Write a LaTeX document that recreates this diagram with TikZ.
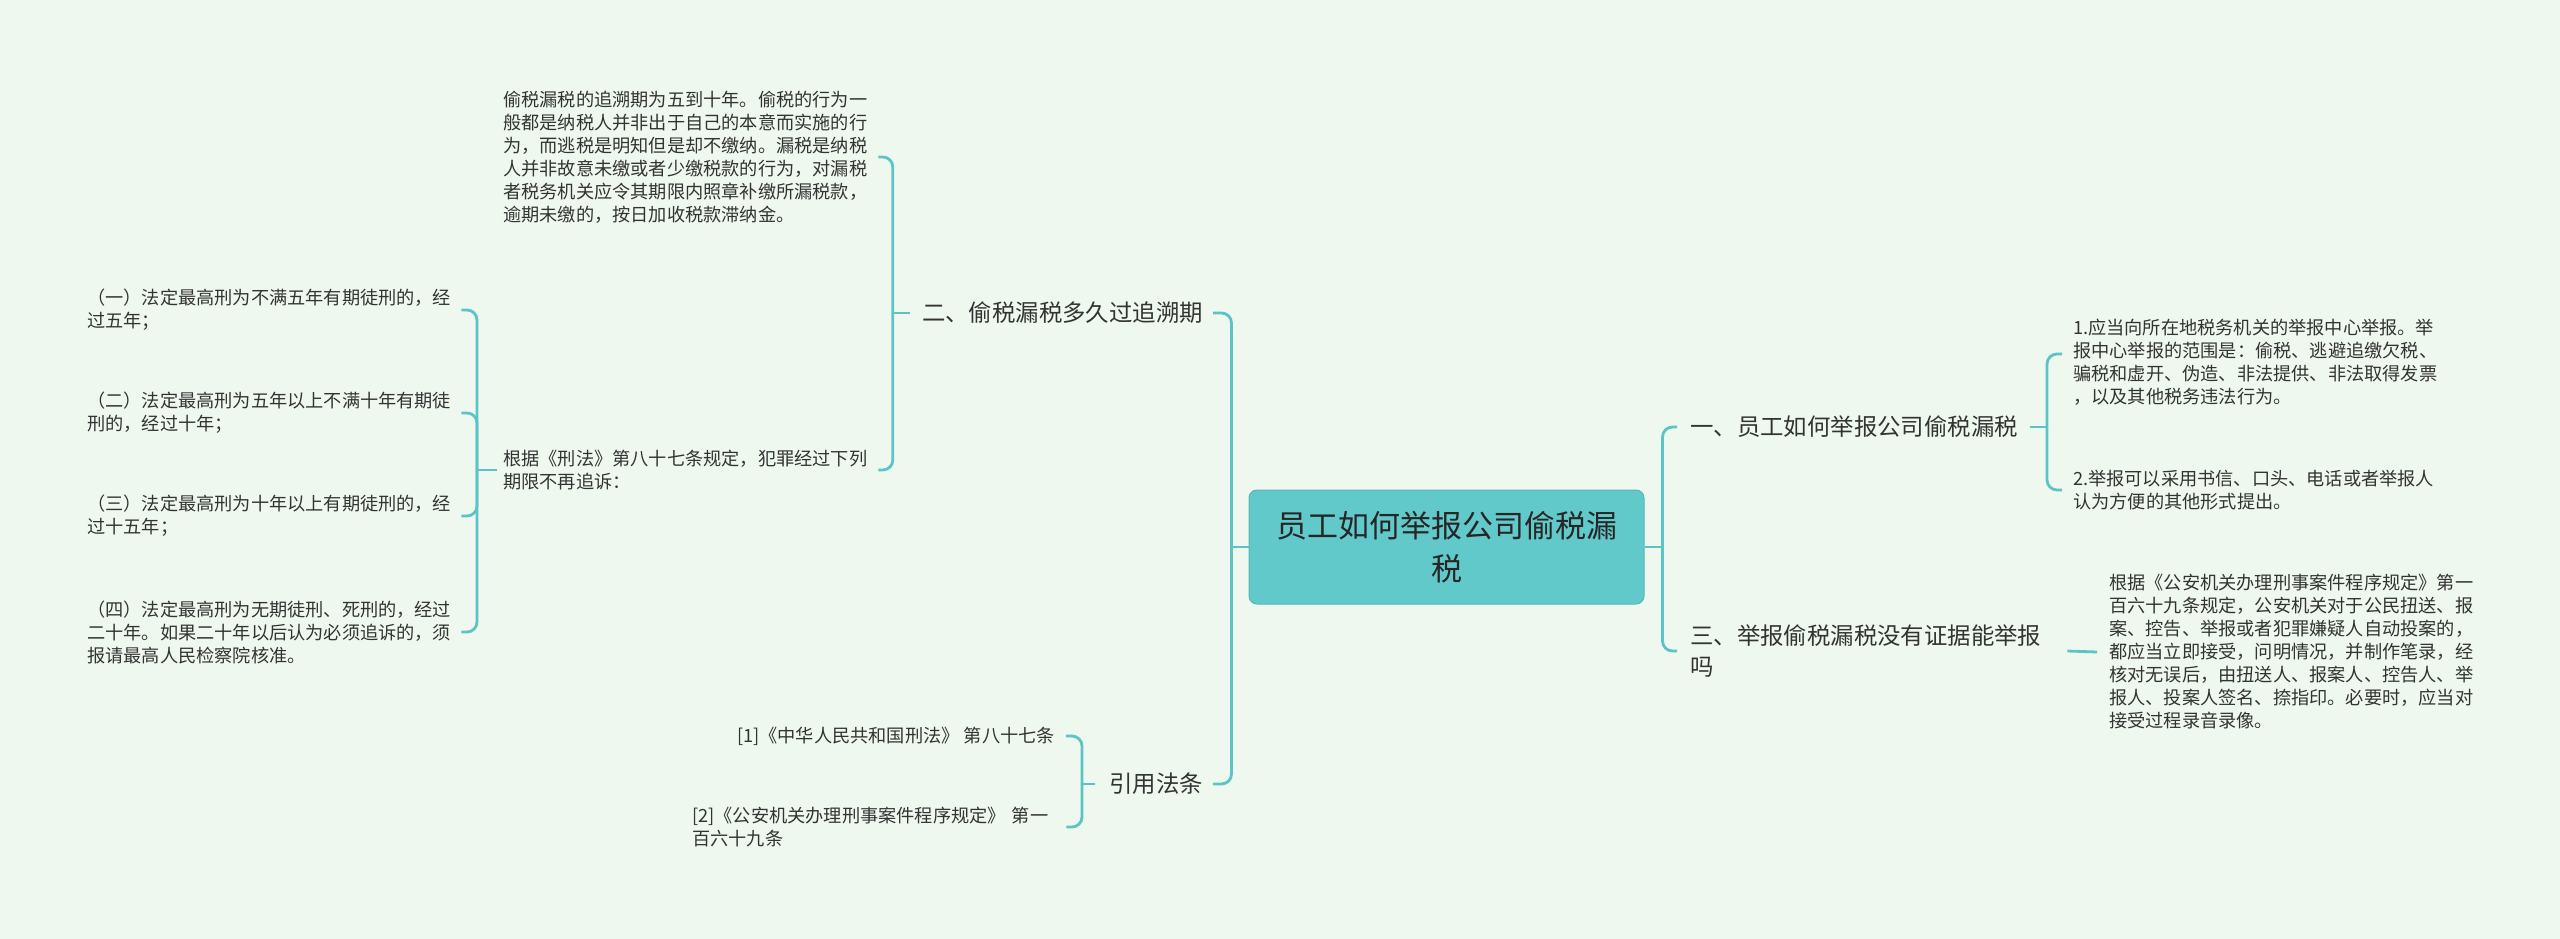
\documentclass[tikz,border=0pt]{standalone}
\usepackage{fontspec}
\setmainfont{Noto Sans CJK SC}
\usepackage{tikz}
\definecolor{bgcol}{HTML}{EFF8EF}
\definecolor{linecol}{HTML}{5CC4C6}
\definecolor{rootcol}{HTML}{62C9CB}
\definecolor{txtcol}{HTML}{333333}
\tikzset{
link/.style={draw=linecol, line width=2.8pt},
elbow/.style={link, rounded corners=10pt},
rootbox/.style={fill=rootcol, draw=rootcol!90!black, line width=1pt, rounded corners=8pt,
  minimum width=395pt, minimum height=114pt, align=center, text=black!85,
  font=\fontsize{31}{43}\selectfont},
topic/.style={inner sep=0pt, text=txtcol, align=left, font=\fontsize{23.4}{31}\selectfont},
leafline/.style={inner sep=0pt, text=txtcol, align=left, font=\fontsize{18.2}{23}\selectfont},
leaf/.style={leafline, text width=364pt}
}

\begin{document}
\begin{tikzpicture}[x=1pt,y=-1pt]
\fill[bgcol] (0,0) rectangle (2560,939);
\useasboundingbox (0,0) rectangle (2560,939);

\node[rootbox] (root) at (1446.5,547) {员工如何举报公司偷税漏\\税};

\node[topic,anchor=east] (b2) at (1203,313) {二、偷税漏税多久过追溯期};
\node[topic,anchor=east] (b4) at (1203,784) {引用法条};
\node[topic,anchor=west] (b1) at (1690,427) {一、员工如何举报公司偷税漏税};
\node[topic,anchor=west,text width=360pt] (b3) at (1690,651) {三、举报偷税漏税没有证据能举报\\吗};

\node[leaf,anchor=west] (t1) at (503,157) {偷税漏税的追溯期为五到十年。偷税的行为一\\般都是纳税人并非出于自己的本意而实施的行\\为，而逃税是明知但是却不缴纳。漏税是纳税\\人并非故意未缴或者少缴税款的行为，对漏税\\者税务机关应令其期限内照章补缴所漏税款，\\逾期未缴的，按日加收税款滞纳金。};
\node[leaf,anchor=west] (t2) at (503,470) {根据《刑法》第八十七条规定，犯罪经过下列\\期限不再追诉：};

\node[leaf,anchor=west] (q1) at (87,310) {（一）法定最高刑为不满五年有期徒刑的，经\\过五年；};
\node[leaf,anchor=west] (q2) at (87,413) {（二）法定最高刑为五年以上不满十年有期徒\\刑的，经过十年；};
\node[leaf,anchor=west] (q3) at (87,516) {（三）法定最高刑为十年以上有期徒刑的，经\\过十五年；};
\node[leaf,anchor=west] (q4) at (87,632) {（四）法定最高刑为无期徒刑、死刑的，经过\\二十年。如果二十年以后认为必须追诉的，须\\报请最高人民检察院核准。};

\node[leafline,anchor=east] (r1) at (1055,736) {[1]《中华人民共和国刑法》 第八十七条};
\node[leaf,anchor=west,text width=363pt] (r2) at (692,827) {[2]《公安机关办理刑事案件程序规定》 第一\\百六十九条};

\node[leaf,anchor=west] (s1) at (2073,362) {1.应当向所在地税务机关的举报中心举报。举\\报中心举报的范围是：偷税、逃避追缴欠税、\\骗税和虚开、伪造、非法提供、非法取得发票\\，以及其他税务违法行为。};
\node[leaf,anchor=west] (s2) at (2073,490) {2.举报可以采用书信、口头、电话或者举报人\\认为方便的其他形式提出。};
\node[leaf,anchor=west] (s3) at (2109,652) {根据《公安机关办理刑事案件程序规定》第一\\百六十九条规定，公安机关对于公民扭送、报\\案、控告、举报或者犯罪嫌疑人自动投案的，\\都应当立即接受，问明情况，并制作笔录，经\\核对无误后，由扭送人、报案人、控告人、举\\报人、投案人签名、捺指印。必要时，应当对\\接受过程录音录像。};

% left side
\draw[link] (root.west) -- ++(-17,0) coordinate (jl);
\draw[elbow] (jl) |- ([xshift=10pt]b2.east);
\draw[elbow] (jl) |- ([xshift=10pt]b4.east);

\draw[link] ([xshift=-12pt]b2.west) -- ++(-17,0) coordinate (j2);
\draw[elbow] (j2) |- ([xshift=11pt]t1.east);
\draw[elbow] (j2) |- ([xshift=11pt]t2.east);

\draw[link] ([xshift=-6pt]t2.west) -- ++(-20,0) coordinate (j5);
\foreach \q in {q1,q2,q3,q4}
  \draw[elbow] (j5) |- ([xshift=10pt]\q.east);

\draw[link] ([xshift=-14pt]b4.west) -- ++(-13,0) coordinate (j4);
\draw[elbow] (j4) |- ([xshift=11pt]r1.east);
\draw[elbow] (j4) |- ([xshift=11pt]r2.east);

% right side
\draw[link] (root.east) -- ++(18,0) coordinate (jr);
\draw[elbow] (jr) |- ([xshift=-13pt]b1.west);
\draw[elbow] (jr) |- ([xshift=-13pt]b3.west);

\draw[link] ([xshift=12pt]b1.east) -- ++(17,0) coordinate (j1);
\draw[elbow] (j1) |- ([xshift=-11pt,yshift=8pt]s1.west);
\draw[elbow] (j1) |- ([xshift=-11pt]s2.west);

\draw[link] ([xshift=17pt]b3.east) -- ([xshift=-12pt]s3.west);
\end{tikzpicture}
\end{document}
